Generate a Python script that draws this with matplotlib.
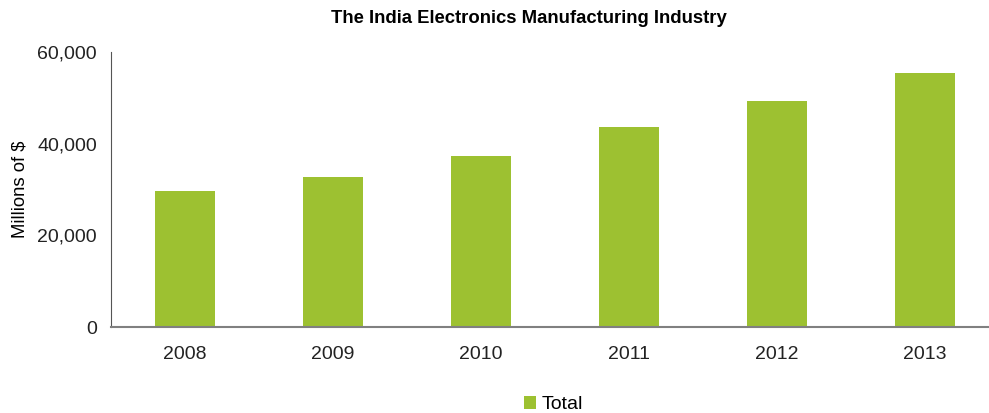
import numpy as np
import matplotlib.pyplot as plt
from matplotlib.ticker import FuncFormatter

plt.rcParams['font.family'] = ['Liberation Sans', 'DejaVu Sans']

years = ['2008', '2009', '2010', '2011', '2012', '2013']
total = [29700, 32700, 37300, 43600, 49300, 55400]

fig = plt.figure(figsize=(9.89, 4.13), dpi=100)
ax = fig.add_axes([0.1122, 0.2082, 0.898, 0.666])

x = np.arange(len(years))
ax.bar(x, total, width=0.405, color='#9dc131', label='Total', zorder=2)

ax.set_xlim(-0.5, 5.5)
ax.set_ylim(0, 60000)
ax.set_yticks([0, 20000, 40000, 60000])
ax.yaxis.set_major_formatter(FuncFormatter(lambda v, p: f'{int(v):,}'))
ax.set_xticks(x)
ax.set_xticklabels(years)
ax.tick_params(axis='both', length=0, labelsize=14, colors='#222222')
ax.tick_params(axis='x', pad=14)
ax.tick_params(axis='y', pad=10)

for s in ['top', 'right']:
    ax.spines[s].set_visible(False)
ax.spines['left'].set_color('#555555')
ax.spines['bottom'].set_color('#808080')
ax.spines['bottom'].set_linewidth(1.5)

ax.set_ylabel('Millions of $', fontsize=13.3)
ax.yaxis.set_label_coords(-0.093, 0.5)
fig.text(0.535, 0.956, 'The India Electronics Manufacturing Industry',
         ha='center', va='center', fontsize=13.3, fontweight='bold')

fig.legend(loc='center', bbox_to_anchor=(0.56, 0.02), frameon=False,
           fontsize=14, handlelength=0.6, handleheight=0.6, handletextpad=0.3)

plt.savefig('out.png', dpi=100)
